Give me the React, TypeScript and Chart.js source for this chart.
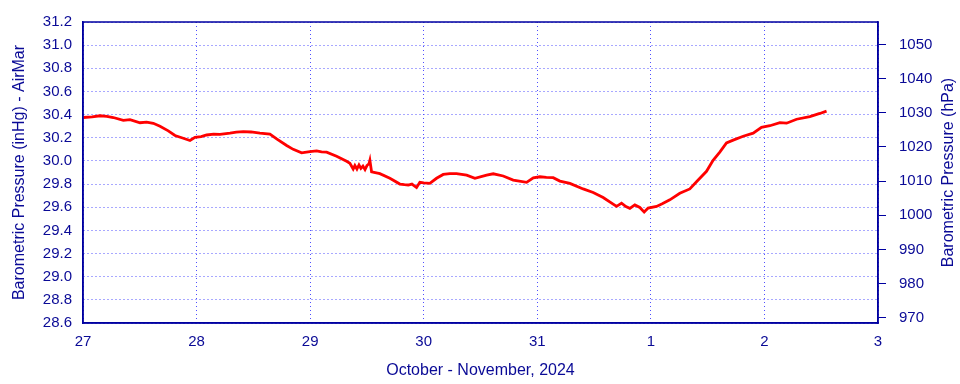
import React, { useEffect, useRef } from "react";
import { Chart, registerables } from "chart.js";

Chart.register(...registerables);

// Days since Oct 27 00:00
const dayLabels = ["27", "28", "29", "30", "31", "1", "2", "3"];
const times = [
  0.003, 0.08, 0.15, 0.21, 0.267, 0.355, 0.414, 0.502, 0.56, 0.619, 0.678, 0.751, 0.81, 0.883, 0.942, 0.986,
  1.04, 1.089, 1.15, 1.206, 1.294, 1.35, 1.411, 1.48, 1.558, 1.646, 1.705, 1.793, 1.851, 1.925, 1.998,
  2.057, 2.1, 2.145, 2.233, 2.321, 2.35, 2.379, 2.394, 2.412, 2.43, 2.447, 2.465, 2.483, 2.5, 2.518, 2.526,
  2.541, 2.614, 2.702, 2.79, 2.83, 2.864, 2.896, 2.937, 2.966, 3.0, 3.054, 3.113, 3.172, 3.23, 3.289,
  3.378, 3.451, 3.554, 3.612, 3.7, 3.788, 3.906, 3.965, 4.023, 4.08, 4.14, 4.199, 4.287, 4.404, 4.492,
  4.58, 4.668, 4.698, 4.742, 4.78, 4.815, 4.859, 4.903, 4.941, 4.976, 5.05, 5.1, 5.167, 5.255, 5.343,
  5.402, 5.49, 5.548, 5.607, 5.666, 5.725, 5.813, 5.901, 5.974, 6.048, 6.136, 6.195, 6.283, 6.4, 6.488, 6.547,
];
const pressureInHg = [
  30.375, 30.38, 30.39, 30.385, 30.375, 30.35, 30.357, 30.33, 30.335, 30.325, 30.3, 30.26, 30.22, 30.196, 30.176, 30.204,
  30.21, 30.224, 30.232, 30.23, 30.24, 30.248, 30.253, 30.25, 30.24, 30.232, 30.19, 30.133, 30.1, 30.07, 30.08,
  30.087, 30.078, 30.076, 30.04, 29.997, 29.98, 29.93, 29.96, 29.93, 29.965, 29.935, 29.955, 29.925, 29.96, 29.975, 30.005,
  29.905, 29.89, 29.85, 29.8, 29.795, 29.792, 29.8, 29.77, 29.815, 29.81, 29.806, 29.85, 29.883, 29.89, 29.891,
  29.877, 29.85, 29.877, 29.889, 29.87, 29.835, 29.815, 29.854, 29.863, 29.858, 29.855, 29.826, 29.806, 29.758, 29.727,
  29.684, 29.627, 29.607, 29.635, 29.605, 29.59, 29.62, 29.598, 29.558, 29.593, 29.607, 29.63, 29.664, 29.72, 29.758,
  29.82, 29.91, 30.005, 30.076, 30.156, 30.18, 30.213, 30.24, 30.29, 30.304, 30.33, 30.326, 30.36, 30.383, 30.41, 30.43,
];
const hPaTicks = [970, 980, 990, 1000, 1010, 1020, 1030, 1040, 1050];

const INHG_TO_HPA = 33.8639;
const Y_MIN = 28.6;
const Y_MAX = 31.2;

const NAVY = "#0000a0";
const TEXT = "#0a0a96";
const GRID = "#5050ff";
const FONT = "'Liberation Sans', Arial, sans-serif";
const RIGHT_TITLE = "Barometric Pressure (hPa)";

const frame = {
  id: "frame",
  afterDraw(chart: any) {
    const { ctx, chartArea } = chart;
    ctx.save();
    ctx.strokeStyle = NAVY;
    ctx.lineWidth = 1.5;
    ctx.strokeRect(chartArea.left, chartArea.top, chartArea.right - chartArea.left, chartArea.bottom - chartArea.top);
    ctx.translate(chart.width - 11, (chartArea.top + chartArea.bottom) / 2);
    ctx.rotate(-Math.PI / 2);
    ctx.fillStyle = TEXT;
    ctx.font = `16px ${FONT}`;
    ctx.textAlign = "center";
    ctx.textBaseline = "middle";
    ctx.fillText(RIGHT_TITLE, 0, 0);
    ctx.restore();
  },
};

export default function App() {
  const ref = useRef<HTMLCanvasElement | null>(null);
  useEffect(() => {
    document.body.style.margin = "0";
    const data = times.map((t, i) => ({ x: t, y: pressureInHg[i] }));
    const chart = new Chart(ref.current as HTMLCanvasElement, {
      type: "line",
      data: {
        datasets: [
          {
            data,
            borderColor: "#ff0000",
            borderWidth: 2.8,
            pointRadius: 0,
            tension: 0,
            yAxisID: "y",
          },
        ],
      },
      options: {
        animation: false,
        responsive: false,
        layout: { padding: { top: 18, left: 0, right: 0, bottom: 0 } },
        plugins: { legend: { display: false }, tooltip: { enabled: false } },
        scales: {
          x: {
            type: "linear",
            min: 0,
            max: 7,
            border: { color: NAVY, width: 1.5, dash: [1, 3] },
            grid: { color: GRID, drawTicks: false },
            ticks: {
              stepSize: 1,
              padding: 10,
              color: TEXT,
              font: { family: FONT, size: 15 },
              callback: (v: any) => dayLabels[Math.round(Number(v))] ?? "",
            },
            title: {
              display: true,
              text: "October - November, 2024",
              color: TEXT,
              font: { family: FONT, size: 16 },
              padding: { top: 0, bottom: 3.4 },
            },
            afterFit: (s: any) => {
              s.height = 61;
            },
          } as any,
          y: {
            type: "linear",
            position: "left",
            min: Y_MIN,
            max: Y_MAX,
            border: { color: NAVY, width: 1.5, dash: [1, 3] },
            grid: { color: GRID, drawTicks: false },
            ticks: {
              stepSize: 0.2,
              padding: 11,
              color: TEXT,
              font: { family: FONT, size: 15 },
              callback: (v: any) => Number(v).toFixed(1),
            },
            title: {
              display: true,
              text: "Barometric Pressure (inHg) - AirMar",
              color: TEXT,
              font: { family: FONT, size: 16 },
              padding: { top: 10, bottom: 0 },
            },
            afterFit: (s: any) => {
              s.width = 83;
            },
          } as any,
          y1: {
            type: "linear",
            position: "right",
            min: Y_MIN * INHG_TO_HPA,
            max: Y_MAX * INHG_TO_HPA,
            border: { color: NAVY, width: 1.5 },
            grid: { drawOnChartArea: false, drawTicks: true, tickLength: 8, color: NAVY },
            afterBuildTicks: (s: any) => {
              s.ticks = hPaTicks.map((v) => ({ value: v }));
            },
            ticks: {
              padding: 13,
              color: TEXT,
              font: { family: FONT, size: 15 },
              callback: (v: any) => String(v),
            },
            title: { display: false },
            afterFit: (s: any) => {
              s.width = 82;
            },
          } as any,
        },
      },
      plugins: [frame],
    });
    return () => chart.destroy();
  }, []);
  return <canvas ref={ref} width={960} height={384} />;
}
